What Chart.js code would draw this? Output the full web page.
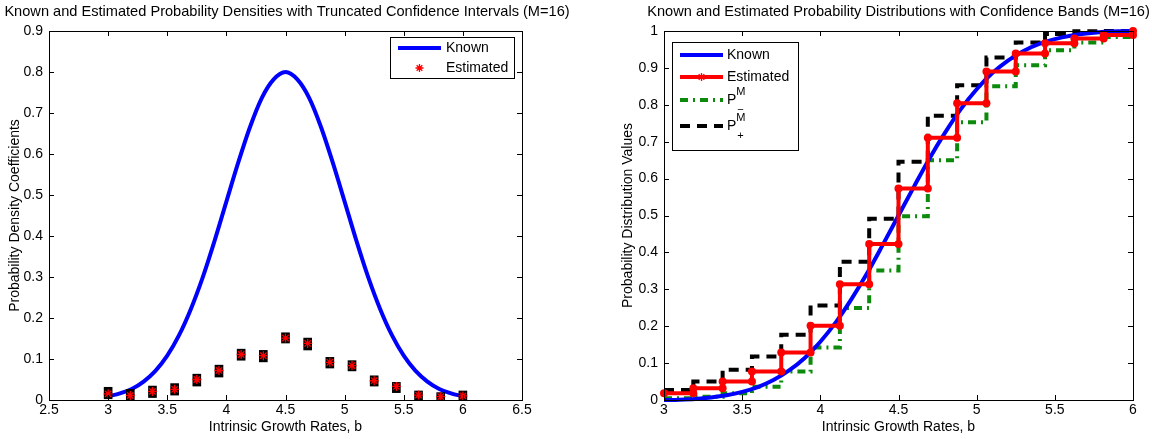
<!DOCTYPE html>
<html>
<head>
<meta charset="utf-8">
<script src="https://cdn.jsdelivr.net/npm/chart.js@4.4.0/dist/chart.umd.min.js"></script>
<style>
  html, body { margin: 0; padding: 0; background: #fff; }
  #wrap { position: relative; width: 1152px; height: 439px; }
  canvas { position: absolute; top: 0; }
</style>
</head>
<body>
<div id="wrap">
  <canvas id="densChart" width="576" height="439" style="left:0"></canvas>
  <canvas id="distChart" width="576" height="439" style="left:576px"></canvas>
</div>
<script>
    // Nodes (M=16 -> 17 nodes between 3 and 6)
    const nodesX = [3, 3.1875, 3.375, 3.5625, 3.75, 3.9375, 4.125, 4.3125, 4.5,
      4.6875, 4.875, 5.0625, 5.25, 5.4375, 5.625, 5.8125, 6];

    // Known curves sampled every 0.1
    const knownX = [3.0, 3.1, 3.2, 3.3, 3.4, 3.5, 3.6, 3.7, 3.8, 3.9, 4.0, 4.1, 4.2, 4.3, 4.4, 4.5,
      4.6, 4.7, 4.8, 4.9, 5.0, 5.1, 5.2, 5.3, 5.4, 5.5, 5.6, 5.7, 5.8, 5.9, 6.0];
    const knownDensity = [0.009, 0.016, 0.027, 0.045, 0.071, 0.108, 0.158, 0.222, 0.299, 0.388, 0.484,
      0.579, 0.666, 0.737, 0.782, 0.800, 0.782, 0.737, 0.666, 0.579, 0.484, 0.388, 0.299, 0.222,
      0.158, 0.108, 0.071, 0.045, 0.027, 0.016, 0.009];
    const knownCdf = [0, 0.001, 0.003, 0.007, 0.013, 0.022, 0.035, 0.054, 0.080, 0.114, 0.158,
      0.211, 0.274, 0.344, 0.421, 0.5, 0.579, 0.656, 0.726, 0.789, 0.842, 0.886, 0.920, 0.946,
      0.965, 0.978, 0.987, 0.993, 0.997, 0.999, 1.0];

    // Estimated density coefficients and truncated confidence intervals
    const estDensity = [0.015, 0.011, 0.021, 0.026, 0.050, 0.072, 0.111, 0.108, 0.151,
      0.138, 0.092, 0.084, 0.047, 0.033, 0.012, 0.008, 0.010];
    const ciLow = [0.003, 0, 0.006, 0.012, 0.034, 0.056, 0.097, 0.093, 0.139,
      0.122, 0.078, 0.071, 0.034, 0.018, 0, 0, 0];
    const ciHigh = [0.031, 0.026, 0.034, 0.040, 0.063, 0.085, 0.124, 0.121, 0.164,
      0.151, 0.104, 0.096, 0.059, 0.043, 0.022, 0.018, 0.022];

    // Estimated distribution and confidence bands (level from each node on)
    const estCdf = [0.018, 0.032, 0.050, 0.077, 0.129, 0.201, 0.314, 0.423, 0.573,
      0.711, 0.804, 0.890, 0.939, 0.967, 0.980, 0.989, 1.0];
    const lowerBand = [0.005, 0.009, 0.018, 0.036, 0.077, 0.142, 0.249, 0.351, 0.498,
      0.650, 0.753, 0.850, 0.907, 0.948, 0.969, 0.984, 0.984];
    const upperBand = [0.027, 0.050, 0.082, 0.118, 0.177, 0.256, 0.375, 0.491, 0.646,
      0.770, 0.853, 0.928, 0.969, 0.992, 0.999, 1.0, 1.0];

    // Tick labels
    const leftXTicks = [2.5, 3, 3.5, 4, 4.5, 5, 5.5, 6, 6.5];
    const leftYTicks = [0, 0.1, 0.2, 0.3, 0.4, 0.5, 0.6, 0.7, 0.8, 0.9];
    const rightXTicks = [3, 3.5, 4, 4.5, 5, 5.5, 6];
    const rightYTicks = [0, 0.1, 0.2, 0.3, 0.4, 0.5, 0.6, 0.7, 0.8, 0.9, 1];

    const FONT = '"Liberation Sans", Arial, Helvetica, sans-serif';
    const GREEN = '#0b8a0b';

    // Frame with inward ticks, like the original
    const framePlugin = {
      id: 'frame',
      afterDatasetsDraw(chart) {
        const { ctx, chartArea: a, scales } = chart;
        ctx.save();
        ctx.strokeStyle = '#000';
        ctx.lineWidth = 1;
        ctx.beginPath();
        scales.x.ticks.forEach(t => {
          const px = Math.round(scales.x.getPixelForValue(t.value)) + 0.5;
          ctx.moveTo(px, a.bottom); ctx.lineTo(px, a.bottom - 5);
          ctx.moveTo(px, a.top); ctx.lineTo(px, a.top + 5);
        });
        scales.y.ticks.forEach(t => {
          const py = Math.round(scales.y.getPixelForValue(t.value)) + 0.5;
          ctx.moveTo(a.left, py); ctx.lineTo(a.left + 5, py);
          ctx.moveTo(a.right, py); ctx.lineTo(a.right - 5, py);
        });
        ctx.stroke();
        ctx.strokeRect(Math.round(a.left) + 0.5, Math.round(a.top) + 0.5,
          Math.round(a.right - a.left), Math.round(a.bottom - a.top));
        ctx.restore();
      }
    };

    // Title centred over the plot box, allowed to run wider than it
    const plotTitlePlugin = {
      id: 'plotTitle',
      afterDraw(chart, args, opts) {
        const { ctx, chartArea: a } = chart;
        ctx.save();
        ctx.fillStyle = '#000';
        ctx.font = '14.6px ' + FONT;
        ctx.textAlign = 'center';
        ctx.textBaseline = 'middle';
        ctx.fillText(opts.text, (a.left + a.right) / 2 + (opts.dx || 0), 12);
        ctx.restore();
      }
    };

    function drawStar(ctx, x, y, r) {
      ctx.beginPath();
      ctx.moveTo(x - r, y); ctx.lineTo(x + r, y);
      ctx.moveTo(x, y - r); ctx.lineTo(x, y + r);
      const d = r * 0.707;
      ctx.moveTo(x - d, y - d); ctx.lineTo(x + d, y + d);
      ctx.moveTo(x - d, y + d); ctx.lineTo(x + d, y - d);
      ctx.stroke();
    }

    // Legend drawn inside the plot box
    const legendPlugin = {
      id: 'boxLegend',
      afterDraw(chart, args, opts) {
        const { ctx } = chart;
        const b = opts.box;
        ctx.save();
        ctx.fillStyle = '#fff';
        ctx.fillRect(b.x, b.y, b.w, b.h);
        ctx.strokeStyle = '#000';
        ctx.lineWidth = 1;
        ctx.strokeRect(b.x + 0.5, b.y + 0.5, b.w, b.h);
        ctx.textBaseline = 'middle';
        opts.items.forEach(it => {
          const x0 = b.x + opts.sx0, x1 = b.x + opts.sx1, y = it.y;
          if (it.line) {
            ctx.strokeStyle = it.color;
            ctx.lineWidth = 4;
            ctx.setLineDash(it.dash || []);
            ctx.beginPath(); ctx.moveTo(x0, y); ctx.lineTo(x1, y); ctx.stroke();
            ctx.setLineDash([]);
          }
          if (it.star) {
            ctx.strokeStyle = '#f00';
            ctx.lineWidth = 1.3;
            drawStar(ctx, (x0 + x1) / 2, y, 4);
          }
          ctx.fillStyle = '#000';
          ctx.font = '14px ' + FONT;
          const tx = b.x + opts.tx;
          if (it.sign) {
            ctx.fillText('P', tx, y);
            const w = ctx.measureText('P').width;
            ctx.font = '11px ' + FONT;
            ctx.fillText('M', tx + w, y - 8);
            ctx.fillText(it.sign, tx + w + 1, y + 10);
          } else {
            ctx.fillText(it.label, tx, y);
          }
        });
        ctx.restore();
      }
    };

    const tickFont = { family: FONT, size: 14 };

    const makeScales = (xmin, xmax, xticks, ymin, ymax, yticks, yTitle, yWidth, yTitlePad) => ({
      x: {
        type: 'linear', min: xmin, max: xmax, offset: false,
        grid: { display: false, drawTicks: false },
        border: { display: false },
        afterBuildTicks: s => { s.ticks = xticks.map(v => ({ value: v })); },
        afterFit: s => { s.height = 39; },
        ticks: { color: '#000', font: tickFont, padding: 2, maxRotation: 0, autoSkip: false, callback: v => String(v) },
        title: { display: true, text: 'Intrinsic Growth Rates, b', color: '#000', font: tickFont, padding: { top: 0, bottom: 3.6 } }
      },
      y: {
        type: 'linear', min: ymin, max: ymax, beginAtZero: false,
        grid: { display: false, drawTicks: false },
        border: { display: false },
        afterBuildTicks: s => { s.ticks = yticks.map(v => ({ value: v })); },
        afterFit: s => { s.width = yWidth; },
        ticks: { color: '#000', font: tickFont, padding: 6, autoSkip: false, callback: v => String(v) },
        title: { display: true, text: yTitle, color: '#000', font: tickFont, padding: { top: yTitlePad, bottom: 0 } }
      }
    });

    // Left: densities
    new Chart(document.getElementById('densChart'), {
      type: 'line',
      data: {
        datasets: [
          {
            label: 'Estimated',
            data: nodesX.map((x, i) => ({ x: x, y: estDensity[i] })),
            showLine: false,
            pointStyle: 'star',
            pointRadius: 4.5,
            pointBorderWidth: 1.3,
            borderColor: '#f00',
            backgroundColor: '#f00'
          },
          {
            type: 'bar',
            label: 'CI',
            data: nodesX.map((x, i) => ({ x: x, y: [ciLow[i], ciHigh[i]] })),
            backgroundColor: '#000',
            barThickness: 8,
            grouped: false
          },
          {
            label: 'Known',
            data: knownX.map((x, i) => ({ x: x, y: knownDensity[i] })),
            borderColor: '#0000ff',
            borderWidth: 4,
            pointRadius: 0,
            cubicInterpolationMode: 'monotone',
            fill: false
          }
        ]
      },
      options: {
        responsive: false,
        animation: false,
        layout: { padding: { left: 0, right: 54, top: 31, bottom: 0 } },
        plugins: {
          legend: { display: false },
          tooltip: { enabled: false },
          plotTitle: { text: 'Known and Estimated Probability Densities with Truncated Confidence Intervals (M=16)', dx: 1.5 },
          boxLegend: {
            box: { x: 390, y: 37, w: 124, h: 41 },
            sx0: 8, sx1: 51, tx: 56,
            items: [
              { label: 'Known', line: true, color: '#0000ff', y: 48 },
              { label: 'Estimated', star: true, y: 68 }
            ]
          }
        },
        scales: makeScales(2.5, 6.5, leftXTicks, 0, 0.9, leftYTicks, 'Probability Density Coefficients', 49, 6.6)
      },
      plugins: [framePlugin, plotTitlePlugin, legendPlugin]
    });

    // Right: distributions with step functions
    const estStepPts = [];
    nodesX.forEach((x, i) => {
      if (i > 0) estStepPts.push({ x: x, y: estCdf[i - 1] });
      estStepPts.push({ x: x, y: estCdf[i] });
    });

    new Chart(document.getElementById('distChart'), {
      type: 'line',
      data: {
        datasets: [
          {
            label: 'Estimated',
            data: estStepPts,
            borderColor: '#f00',
            backgroundColor: '#f00',
            borderWidth: 4,
            pointRadius: 4,
            pointBorderWidth: 0,
            tension: 0
          },
          {
            label: 'Known',
            data: knownX.map((x, i) => ({ x: x, y: knownCdf[i] })),
            borderColor: '#0000ff',
            borderWidth: 4,
            pointRadius: 0,
            cubicInterpolationMode: 'monotone'
          },
          {
            label: 'P+',
            data: nodesX.map((x, i) => ({ x: x, y: upperBand[i] })),
            borderColor: '#000',
            borderWidth: 4,
            borderDash: [10, 7],
            pointRadius: 0,
            stepped: true
          },
          {
            label: 'P-',
            data: nodesX.map((x, i) => ({ x: x, y: lowerBand[i] })),
            borderColor: GREEN,
            borderWidth: 4,
            borderDash: [8, 5, 2, 5],
            pointRadius: 0,
            stepped: true
          }
        ]
      },
      options: {
        responsive: false,
        animation: false,
        clip: 6,
        layout: { padding: { left: 0, right: 19, top: 31, bottom: 0 } },
        plugins: {
          legend: { display: false },
          tooltip: { enabled: false },
          plotTitle: { text: 'Known and Estimated Probability Distributions with Confidence Bands (M=16)' },
          boxLegend: {
            box: { x: 96, y: 42, w: 126, h: 108 },
            sx0: 8, sx1: 51, tx: 55,
            items: [
              { label: 'Known', line: true, color: '#0000ff', y: 55 },
              { label: 'Estimated', line: true, color: '#f00', star: true, y: 77 },
              { sign: '\u2212', line: true, color: GREEN, dash: [8, 5, 2, 5], y: 100 },
              { sign: '+', line: true, color: '#000', dash: [10, 7], y: 126 }
            ]
          }
        },
        scales: makeScales(3, 6, rightXTicks, 0, 1, rightYTicks, 'Probability Distribution Values', 88, 43.6)
      },
      plugins: [framePlugin, plotTitlePlugin, legendPlugin]
    });
</script>
</body>
</html>
